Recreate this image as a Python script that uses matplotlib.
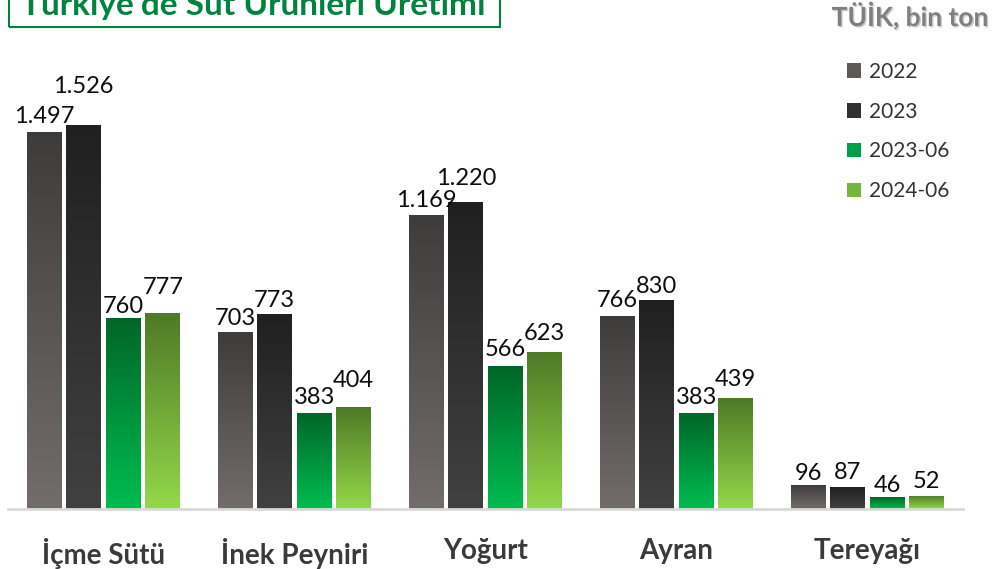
import numpy as np
import matplotlib
matplotlib.use("Agg")
import matplotlib.pyplot as plt
from matplotlib.colors import LinearSegmentedColormap
from matplotlib.patches import Patch, Rectangle
import matplotlib.patheffects as pe

plt.rcParams['font.family'] = ['Lato', 'DejaVu Sans']

categories = ["İçme Sütü", "İnek Peyniri", "Yoğurt", "Ayran", "Tereyağı"]
series_names = ["2022", "2023", "2023-06", "2024-06"]
v2022 = [1497, 703, 1169, 766, 96]
v2023 = [1526, 773, 1220, 830, 87]
v2023_06 = [760, 383, 566, 383, 46]
v2024_06 = [777, 404, 623, 439, 52]
values = [v2022, v2023, v2023_06, v2024_06]

# gap (px) between bar top and label baseline, labels nudged up where they would collide
label_gap = [[9, 7, 8, 9, 5],
             [32, 7, 17, 7, 8],
             [5, 9, 10, 9, 5],
             [19, 20, 12, 12, 8]]

# (top colour, bottom colour) of each series gradient
grads = [("#3e3c3b", "#726d6b"),
         ("#202020", "#414141"),
         ("#006628", "#00bd50"),
         ("#4e7a26", "#94d84a")]
legend_cols = ["#5d5958", "#303030", "#00a046", "#74b63a"]

W, H = 992, 569
fig = plt.figure(figsize=(W / 100, H / 100), dpi=100)
base = 509
ax = fig.add_axes([8 / W, (H - base) / H, 955 / W, 409 / H])

x = np.arange(len(categories))
step = 39.5 / 191
width = 35 / 191
grad = np.linspace(0, 1, 256).reshape(-1, 1)
for i, (vals, (ctop, cbot)) in enumerate(zip(values, grads)):
    offs = (i - 1.5) * step
    bars = ax.bar(x + offs, vals, width, color="none", edgecolor="none", zorder=2)
    cmap = LinearSegmentedColormap.from_list("g%d" % i, [cbot, ctop])
    for j, (b, v) in enumerate(zip(bars, vals)):
        x0 = b.get_x()
        im = ax.imshow(grad, cmap=cmap, aspect="auto", origin="lower",
                       extent=[x0, x0 + b.get_width(), 0, v], zorder=2)
        im.set_clip_path(b)
        ax.annotate(f"{v:,}".replace(",", "."), (x0 + b.get_width() / 2, v),
                    xytext=(0, label_gap[i][j] * 0.72), textcoords="offset points",
                    ha="center", va="baseline", fontsize=17, color="#0d0d0d")

ax.set_xlim(-0.5, len(categories) - 0.5)
ax.set_ylim(0, 409 / 0.2518)
for s in ["top", "right", "left"]:
    ax.spines[s].set_visible(False)
ax.spines["bottom"].set_color("#d9d9d9")
ax.spines["bottom"].set_linewidth(2)
ax.set_yticks([])
ax.set_xticks(x)
ax.set_xticklabels(categories, fontsize=20, fontweight="bold", color="#3a3a3a")
ax.tick_params(axis="x", length=0, pad=21)

handles = [Patch(facecolor=c, edgecolor="none") for c in legend_cols]
ax.legend(handles, series_names, loc="upper left", bbox_to_anchor=(828 / W, 1 - 43 / H),
          bbox_transform=fig.transFigure, frameon=False, fontsize=15,
          handlelength=0.7, handleheight=0.7, handletextpad=0.35,
          labelspacing=0.95, labelcolor="#333333")

# title box, cut off at the top edge
fig.add_artist(Rectangle((9 / W, (H - 27) / H), 491 / W, 0.2, transform=fig.transFigure,
                         facecolor="none", edgecolor="#00843d", lw=1.5, clip_on=False))
fig.text(253 / W, (H - 15) / H, "Türkiye'de Süt Ürünleri Üretimi", ha="center",
         va="baseline", fontsize=24, fontweight="bold", color="#00843d")

fig.text(988 / W, (H - 26) / H, "TÜİK, bin ton", ha="right", va="baseline",
         fontsize=19, fontweight="bold", color="#7f7f7f",
         path_effects=[pe.withSimplePatchShadow(offset=(1, -1), shadow_rgbFace="#999999", alpha=0.5)])

fig.savefig("out.png", dpi=100)
